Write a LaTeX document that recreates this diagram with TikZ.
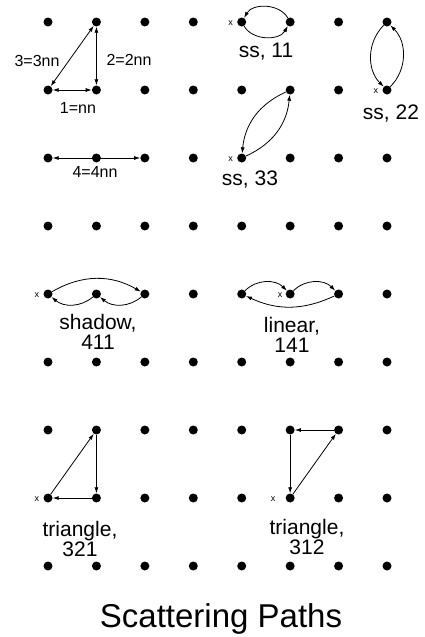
\documentclass[tikz,border=0pt]{standalone}
\usepackage{fontspec}
\setmainfont{Liberation Sans}
\usetikzlibrary{positioning,arrows.meta}

\begin{document}
\begin{tikzpicture}[
    x=1pt,y=-1pt,
    dot/.style={circle,fill=black,inner sep=0pt,minimum size=9pt},
    lbl/.style={anchor=base,align=center,inner sep=0pt,font=\fontsize{21}{20}\selectfont},
    small/.style={anchor=base,inner sep=0pt,font=\fontsize{16}{18}\selectfont},
    xmark/.style={inner sep=0pt,yshift=-1pt,font=\fontsize{9}{9}\selectfont},
    arr/.style={-{Latex[length=6pt,width=4pt]},line width=0.8pt},
    dbl/.style={{Latex[length=6pt,width=4pt]}-{Latex[length=6pt,width=4pt]},line width=0.8pt}
  ]
  \useasboundingbox (0,0) rectangle (424,637);
  \foreach \c in {1,...,8}
    \foreach \r in {1,...,9}
      \node[dot] (p\c\r) at ({48+48.43*(\c-1)},{22+68*(\r-1)}) {};

  % neighbour distances
  \draw[dbl] (p21) -- (p12);
  \draw[dbl] (p21) -- (p22);
  \draw[dbl] (p12) -- (p22);
  \draw[dbl] (p13) -- (p33);
  \node[small] (n3) at (37,66) {3=3nn};
  \node[small] (n2) at (129,65) {2=2nn};
  \node[small] (n1) at (78,113) {1=nn};
  \node[small] (n4) at (95,177) {4=4nn};

  % single scattering
  \draw[arr] (p61) to[bend right=60] (p51);
  \draw[arr] (p51) to[bend right=60] (p61);
  \node[xmark,left=4pt of p51] (x11) {x};
  \node[lbl] (ss11) at (266,57) {ss, 11};

  \draw[arr] (p81) to[bend right=45] (p82);
  \draw[arr] (p82) to[bend right=45] (p81);
  \node[xmark,left=4pt of p82] (x22) {x};
  \node[lbl] (ss22) at (391,119) {ss, 22};

  \draw[arr] (p62) to[bend right=30] (p53);
  \draw[arr] (p53) to[bend right=30] (p62);
  \node[xmark,left=4pt of p53] (x33) {x};
  \node[lbl] (ss33) at (250,185) {ss, 33};

  % shadow and linear
  \draw[arr] (p15) to[bend left=30] (p35);
  \draw[arr] (p25) to[bend left=40] (p15);
  \draw[arr] (p35) to[bend left=40] (p25);
  \node[xmark,left=4pt of p15] (x411) {x};
  \node[lbl] (shadow) at (98,349) {shadow,\\411};

  \draw[arr] (p55) to[bend left=45] (p65);
  \draw[arr] (p65) to[bend left=45] (p75);
  \draw[arr] (p75) to[bend left=25] (p55);
  \node[xmark,left=3pt of p65] (x141) {x};
  \node[lbl] (linear) at (292,352) {linear,\\141};

  % triangles
  \draw[arr] (p18) -- (p27);
  \draw[arr] (p27) -- (p28);
  \draw[arr] (p28) -- (p18);
  \node[xmark,left=4pt of p18] (x321) {x};
  \node[lbl] (tri321) at (80,556) {triangle,\\321};

  \draw[arr] (p68) -- (p77);
  \draw[arr] (p77) -- (p67);
  \draw[arr] (p67) -- (p68);
  \node[xmark,left=10pt of p68] (x312) {x};
  \node[lbl] (tri312) at (307,554) {triangle,\\312};

  \node[anchor=base,inner sep=0pt,font=\fontsize{33}{36}\selectfont] (title) at (221,627) {Scattering Paths};
\end{tikzpicture}
\end{document}
